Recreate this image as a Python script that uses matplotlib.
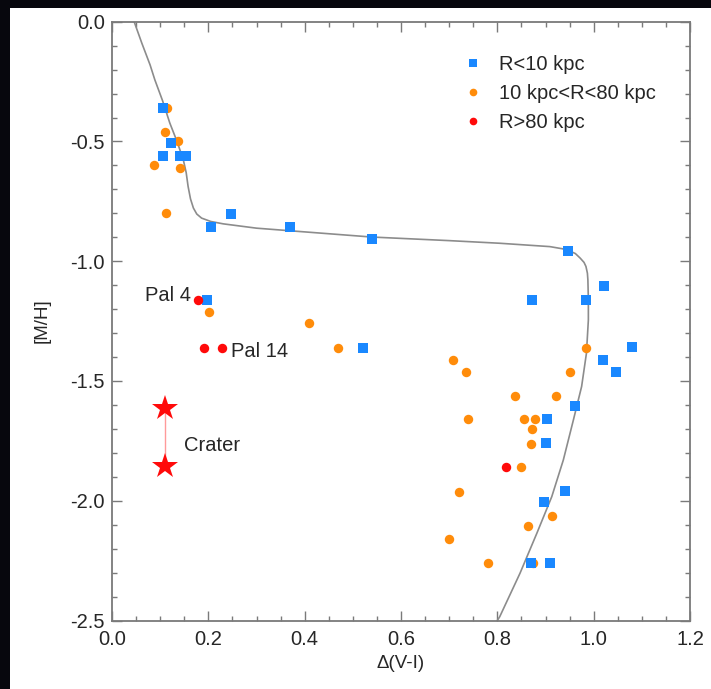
import matplotlib
matplotlib.use("Agg")
import matplotlib.pyplot as plt
from matplotlib.lines import Line2D
from matplotlib.patches import Rectangle
from matplotlib.ticker import MultipleLocator, FormatStrFormatter

plt.rcParams['font.family'] = ['Liberation Sans', 'DejaVu Sans']

# Clusters with R < 10 kpc
inner_dvi = [0.105, 0.1225, 0.106, 0.141, 0.154, 0.205, 0.248, 0.370, 0.539,
             0.947, 0.873, 0.985, 1.021, 0.197, 0.522, 1.0795, 1.019, 1.046,
             0.961, 0.903, 0.900, 0.940, 0.8975, 0.870, 0.909]
inner_mh = [-0.361, -0.507, -0.561, -0.561, -0.561, -0.859, -0.803, -0.859, -0.906,
            -0.959, -1.160, -1.160, -1.104, -1.161, -1.363, -1.360, -1.411, -1.461,
            -1.604, -1.660, -1.760, -1.959, -2.004, -2.260, -2.260]

# Clusters with 10 kpc < R < 80 kpc
mid_dvi = [0.1135, 0.111, 0.138, 0.0866, 0.1405, 0.112, 0.201, 0.408, 0.470,
           0.984, 0.7086, 0.735, 0.951, 0.837, 0.921, 0.740, 0.856, 0.878,
           0.871, 0.869, 0.849, 0.720, 0.913, 0.863, 0.699, 0.781, 0.875]
mid_mh = [-0.361, -0.461, -0.500, -0.600, -0.611, -0.799, -1.213, -1.259, -1.363,
          -1.363, -1.412, -1.461, -1.461, -1.562, -1.562, -1.660, -1.660, -1.660,
          -1.700, -1.763, -1.860, -1.962, -2.062, -2.104, -2.160, -2.260, -2.260]

# Clusters with R > 80 kpc
outer_dvi = [0.179, 0.192, 0.229, 0.818]
outer_mh = [-1.161, -1.363, -1.363, -1.860]

# Crater: two metallicity estimates
crater_dvi = [0.110, 0.110]
crater_mh = [-1.614, -1.857]

# Model relation
model_dvi = [0.046, 0.062, 0.079, 0.089, 0.105, 0.120, 0.135, 0.148, 0.154, 0.158,
             0.163, 0.169, 0.176, 0.186, 0.205, 0.231, 0.300, 0.390, 0.539, 0.700,
             0.805, 0.909, 0.935, 0.950, 0.962, 0.972, 0.980, 0.984, 0.987, 0.988,
             0.989, 0.989, 0.985, 0.975, 0.958, 0.937, 0.913, 0.882, 0.847, 0.805,
             0.800]
model_mh = [0.0, -0.09, -0.18, -0.243, -0.33, -0.423, -0.50, -0.576, -0.63, -0.688,
            -0.74, -0.778, -0.803, -0.820, -0.834, -0.844, -0.862, -0.876, -0.899, -0.914,
            -0.925, -0.939, -0.948, -0.957, -0.968, -0.987, -1.005, -1.022, -1.05, -1.078,
            -1.16, -1.245, -1.384, -1.523, -1.662, -1.830, -1.983, -2.136, -2.303, -2.484,
            -2.5]

legend_labels = ["R<10 kpc", "10 kpc<R<80 kpc", "R>80 kpc"]

BLUE = "#1a88ff"
ORANGE = "#ff8c0a"
RED = "#ff0a0a"
FRAME = "#7a7a7a"
TXT = "#262626"
FS = 14.5

fig = plt.figure(figsize=(7.11, 6.89), dpi=100)
fig.patch.set_facecolor("#07070d")
panel = Rectangle((10 / 711, 0), 1.0, 1 - 8 / 689, transform=fig.transFigure,
                  facecolor="white", edgecolor="none", zorder=-10)
fig.add_artist(panel)

ax = fig.add_axes([112 / 711, 1 - 620.5 / 689, 578 / 711, 598.8 / 689])
ax.set_zorder(1)
ax.set_facecolor("white")

ax.plot(model_dvi, model_mh, color="#8c8c8c", lw=1.2, zorder=2)

ax.plot(crater_dvi, crater_mh, color="#ff9a9a", lw=1.0, zorder=2)
ax.plot(crater_dvi, crater_mh, linestyle="none", marker="*", markersize=19,
        color=RED, markeredgewidth=0, zorder=4)

ax.plot(mid_dvi, mid_mh, linestyle="none", marker="o", markersize=6.8,
        color=ORANGE, markeredgewidth=0, zorder=3)
ax.plot(inner_dvi, inner_mh, linestyle="none", marker="s", markersize=7.2,
        color=BLUE, markeredgewidth=0, zorder=4)
ax.plot(outer_dvi, outer_mh, linestyle="none", marker="o", markersize=6.8,
        color=RED, markeredgewidth=0, zorder=5)

ax.text(0.163, -1.145, "Pal 4", ha="right", va="center", fontsize=FS, color=TXT)
ax.text(0.248, -1.375, "Pal 14", ha="left", va="center", fontsize=FS, color=TXT)
ax.text(0.150, -1.768, "Crater", ha="left", va="center", fontsize=FS, color=TXT)

ax.set_xlim(0.0, 1.2)
ax.set_ylim(-2.5, 0.0)
ax.xaxis.set_major_locator(MultipleLocator(0.2))
ax.xaxis.set_minor_locator(MultipleLocator(0.05))
ax.yaxis.set_major_locator(MultipleLocator(0.5))
ax.yaxis.set_minor_locator(MultipleLocator(0.1))
ax.xaxis.set_major_formatter(FormatStrFormatter("%.1f"))
ax.yaxis.set_major_formatter(FormatStrFormatter("%.1f"))

ax.tick_params(which="both", direction="in", top=True, right=True, color=FRAME,
               labelsize=FS, labelcolor=TXT)
ax.tick_params(which="major", length=7, width=1.0)
ax.tick_params(which="minor", length=3.5, width=1.0)
ax.tick_params(axis="x", pad=7)
ax.tick_params(axis="y", pad=5)
for sp in ax.spines.values():
    sp.set_color(FRAME)
    sp.set_linewidth(1.3)

ax.set_xlabel("Δ(V-I)", fontsize=FS - 1, color=TXT, labelpad=4)
ax.set_ylabel("[M/H]", fontsize=FS - 1, color=TXT, labelpad=14)

handles = [
    Line2D([], [], linestyle="none", marker="s", markersize=6, color=BLUE, markeredgewidth=0),
    Line2D([], [], linestyle="none", marker="o", markersize=5.5, color=ORANGE, markeredgewidth=0),
    Line2D([], [], linestyle="none", marker="o", markersize=5.5, color=RED, markeredgewidth=0),
]
leg = ax.legend(handles, legend_labels, loc="upper left", bbox_to_anchor=(0.593, 0.958),
                frameon=False, fontsize=FS, labelspacing=0.5, handlelength=1.0,
                handletextpad=0.8, borderaxespad=0)
for t in leg.get_texts():
    t.set_color(TXT)

fig.savefig("out.png", dpi=100, facecolor=fig.get_facecolor())
